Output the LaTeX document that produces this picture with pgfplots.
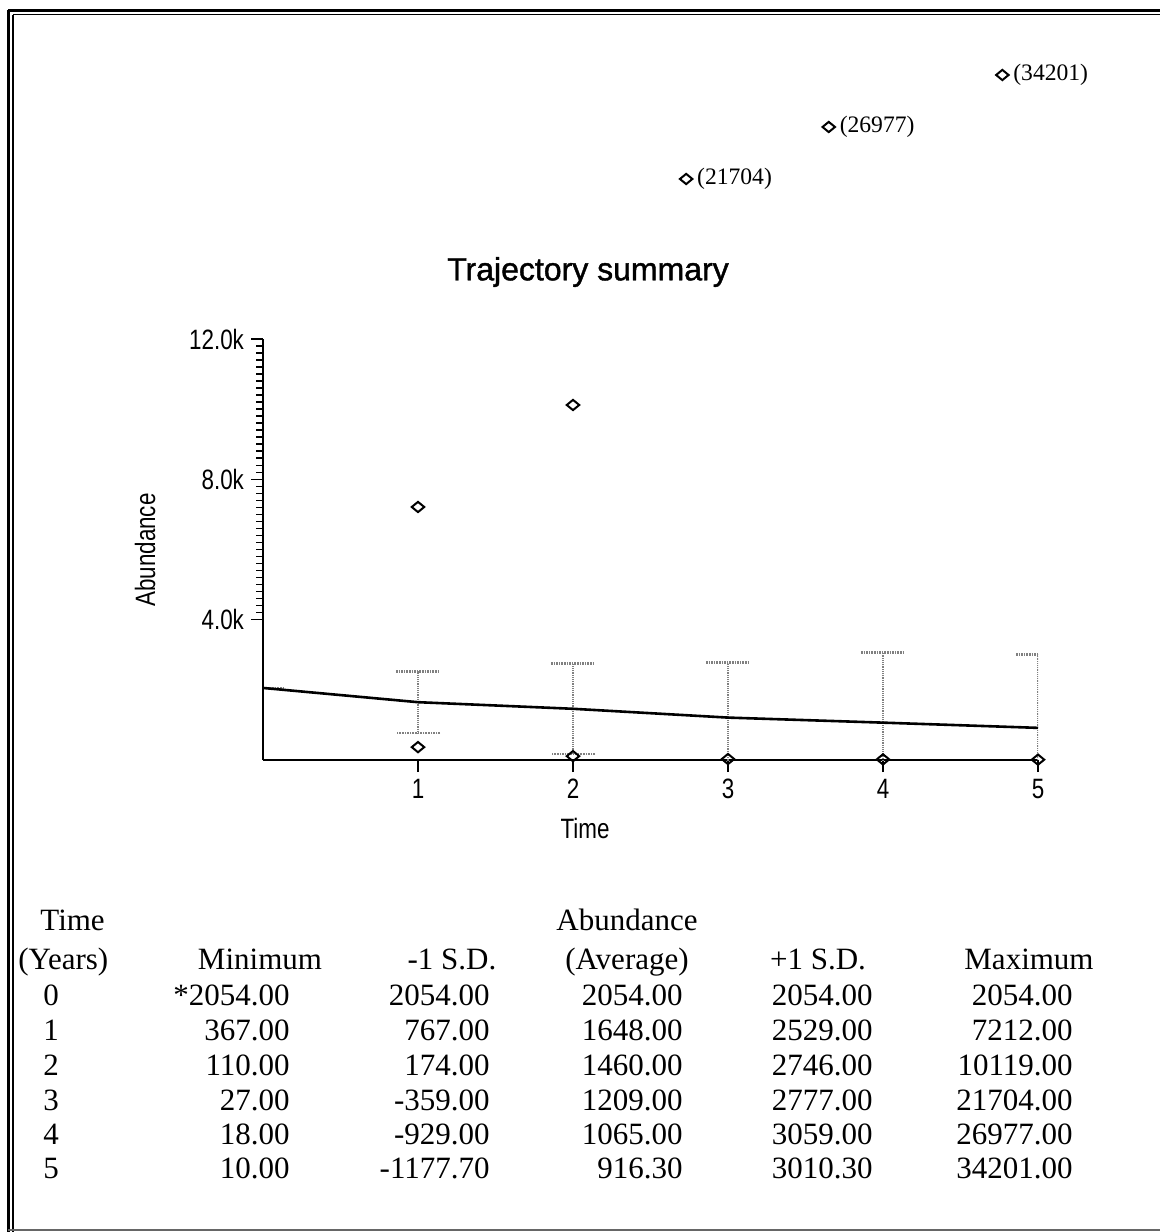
\documentclass[border=0pt]{standalone}
\usepackage{fontspec}
\setmainfont{Liberation Serif}
\newfontfamily\arial[FakeBold=1.3]{Liberation Sans}
\newfontfamily\narrow[FakeStretch=0.8]{Liberation Sans}
\usepackage{pgfplots}
\pgfplotsset{compat=1.18}
\begin{document}
\begin{tikzpicture}
\fill[white] (0,0) rectangle (580pt,-616pt);
\useasboundingbox (0,0) rectangle (580pt,-616pt);
% frame
\draw[line width=1.5pt] (4pt,-5pt) -- (580pt,-5pt);
\draw[line width=0.8pt] (6.5pt,-7.3pt) -- (580pt,-7.3pt);
\draw[line width=1.5pt] (4pt,-5pt) -- (4pt,-616pt);
\draw[line width=0.8pt] (6.5pt,-7.3pt) -- (6.5pt,-616pt);
\draw[line width=1.2pt, black!60] (4pt,-615pt) -- (580pt,-615pt);

\begin{axis}[at={(131.5pt,-380pt)}, anchor=south west, scale only axis,
  width=387.5pt, height=210.5pt,
  xmin=0, xmax=5, ymin=0, ymax=12000,
  axis x line=bottom, axis y line=left,
  axis line style={-, line width=1pt},
  xtick={1,2,3,4,5}, xticklabels={1,2,3,4,5},
  ytick={4000,8000,12000}, yticklabels={4.0k,8.0k,12.0k},
  minor y tick num=19,
  tick align=outside, major tick length=6pt, minor tick length=3.5pt,
  tick style={black, line width=0.8pt},
  ticklabel style={font=\narrow\fontsize{14}{16}\selectfont},
  scaled y ticks=false,
  clip=true]
\addplot[draw=none, mark=none,
  error bars/.cd, y dir=both, y explicit,
  error bar style={draw=gray, line width=0.7pt, dash pattern=on 0.6pt off 0.5pt},
  error mark options={draw=gray, line width=1.3pt, mark size=11pt, rotate=90, dash pattern=on 0.8pt off 0.5pt}]
  coordinates {
  (0,2054) +- (0,0)
  (1,1648) +- (0,881)
  (2,1460) +- (0,1286)
  (3,1209) +- (0,1568)
  (4,1065) +- (0,1994)
  (5,916.3) +- (0,2094)
  };
\addplot[black, line width=1.3pt, mark=none] coordinates {
  (0,2054) (1,1648) (2,1460) (3,1209) (4,1065) (5,916.3)};
\addplot[only marks, mark=diamond, mark size=3.2pt,
  mark options={black, line width=1pt, xscale=1.3, yscale=0.8}] coordinates {
  (1,367) (2,110) (3,27) (4,18) (5,10) (1,7212) (2,10119)};
\end{axis}

\begin{axis}[at={(131.5pt,-380pt)}, anchor=south west, scale only axis,
  width=387.5pt, height=210.5pt,
  xmin=0, xmax=5, ymin=0, ymax=12000,
  axis lines=none, clip=false]
\addplot[only marks, mark=diamond, mark size=3.2pt,
  mark options={black, line width=1pt, xscale=1.3, yscale=0.8},
  nodes near coords, point meta=explicit symbolic,
  nodes near coords style={anchor=west, black, inner sep=1pt, xshift=4pt,
    font=\fontsize{11.8}{13}\selectfont}]
  coordinates {(2.73,16561)[(21704)] (3.65,18043)[(26977)] (4.77,19525)[(34201)]};
\end{axis}

\node[font=\arial\fontsize{16}{19}\selectfont] at (294pt,-136pt) {Trajectory summary};
\node[font=\narrow\fontsize{14}{16}\selectfont] at (292.5pt,-414pt) {Time};
\node[font=\narrow\fontsize{14}{16}\selectfont, rotate=90] at (72.5pt,-275pt) {Abundance};

% table
\begin{scope}[every node/.style={font=\fontsize{15.5}{18}\selectfont, inner sep=0pt}]
\node[anchor=base west] at (20pt,-465pt) {Time};
\node[anchor=base] at (313.5pt,-465pt) {Abundance};
\node[anchor=base west] at (9pt,-484.5pt) {(Years)};
\node[anchor=base] at (130pt,-484.5pt) {Minimum};
\node[anchor=base] at (226pt,-484.5pt) {-1 S.D.};
\node[anchor=base] at (313.5pt,-484.5pt) {(Average)};
\node[anchor=base] at (409pt,-484.5pt) {+1 S.D.};
\node[anchor=base] at (514.5pt,-484.5pt) {Maximum};
\foreach \y/\t/\a/\b/\c/\d/\e in {
  -502.5/0/*2054.00/2054.00/2054.00/2054.00/2054.00,
  -520/1/367.00/767.00/1648.00/2529.00/7212.00,
  -537.5/2/110.00/174.00/1460.00/2746.00/10119.00,
  -555/3/27.00/-359.00/1209.00/2777.00/21704.00,
  -572/4/18.00/-929.00/1065.00/3059.00/26977.00,
  -589/5/10.00/-1177.70/916.30/3010.30/34201.00}{
  \node[anchor=base west] at (21.5pt,\y pt) {\t};
  \node[anchor=base east] at (145pt,\y pt) {\a};
  \node[anchor=base east] at (245pt,\y pt) {\b};
  \node[anchor=base east] at (341.5pt,\y pt) {\c};
  \node[anchor=base east] at (436.5pt,\y pt) {\d};
  \node[anchor=base east] at (536.5pt,\y pt) {\e};
}
\end{scope}
\end{tikzpicture}
\end{document}
